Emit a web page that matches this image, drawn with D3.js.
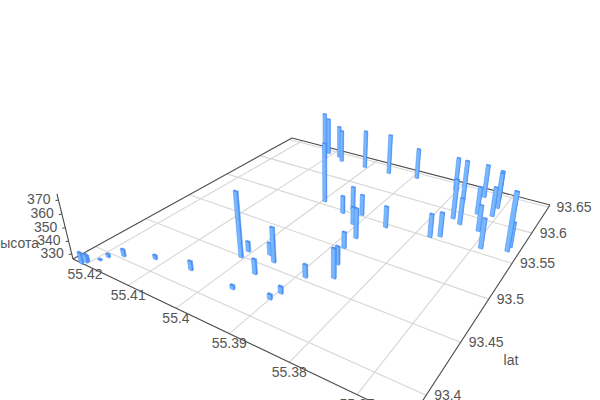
<!DOCTYPE html><html><head><meta charset="utf-8"><style>html,body{margin:0;background:#fff}svg{display:block}text{font-family:"Liberation Sans",Arial,sans-serif;font-size:14px;fill:#555}</style>
<script src="https://d3js.org/d3.v7.min.js"></script></head><body><svg width="600" height="400"></svg>
<script>
const lonValues=[55.4103,55.4110,55.3995,55.4080,55.4064,55.4006,55.3950,55.3891,55.3804,55.3765,55.3776,55.3747,55.3746,55.3718,55.3710,55.3734,55.3708,55.3711,55.3688,55.3648,55.3648,55.3774,55.3760,55.4006,55.4007,55.3953,55.3971,55.3958,55.3962,55.3900,55.3895,55.3887,55.3849,55.3864,55.3880,55.3879,55.3933,55.3907,55.3943,55.3910,55.3853,55.4208,55.4205,55.4205,55.4191,55.4187,55.4168,55.4119,55.4049];
const latValues=[93.631,93.643,93.555,93.641,93.634,93.634,93.635,93.640,93.637,93.588,93.623,93.582,93.638,93.640,93.625,93.606,93.609,93.580,93.557,93.564,93.571,93.551,93.556,93.449,93.458,93.457,93.463,93.438,93.416,93.421,93.430,93.454,93.464,93.480,93.501,93.518,93.555,93.535,93.546,93.552,93.545,93.380,93.383,93.384,93.390,93.396,93.403,93.413,93.417];
const altValues=[367.5,358.8,374.7,354.8,354.5,359.4,360.7,352.4,354.3,358.2,359.5,347.5,353.8,351.1,355.6,348.8,350.3,347.2,349.6,371.7,345.8,344.6,345.4,375.3,334.0,352.7,335.5,337.5,329.1,329.8,331.3,336.0,348.5,340.0,338.8,350.0,345.6,340.2,340.5,342.9,343.3,334.6,332.3,330.8,326.9,328.5,331.6,329.2,333.0];
const lonTicks=[55.42,55.41,55.4,55.39,55.38,55.37];
const latTicks=[93.4,93.45,93.5,93.55,93.6,93.65];
const altTicks=[330,340,350,360,370];

const sScale=d3.scaleLinear().domain([55.423,55.363]).range([0,1]);
const tScale=d3.scaleLinear().domain([93.38,93.655]).range([0,1]);
const hScale=d3.scaleLinear().domain([326.1,374.3]).range([0,0.0588]);
// floor homography and vertical vanishing point of the camera
const hm={a:217.2,b:354.7,c:73,d:38.2,e:-56.9,f:259,g:-0.2923,h:0.4648},vp=[330,1300];
function homog(s,t,l){return [hm.a*s+hm.b*t+hm.c-l*vp[0],hm.d*s+hm.e*t+hm.f-l*vp[1],1+hm.g*s+hm.h*t-l];}
function proj(s,t,l=0){const p=homog(s,t,l);return [p[0]/p[2],p[1]/p[2]];}
const svg=d3.select('svg');
const line=(g,a,b,col,w=1)=>g.append('line').attr('x1',a[0]).attr('y1',a[1]).attr('x2',b[0]).attr('y2',b[1]).attr('stroke',col).attr('stroke-width',w);

const grid=svg.append('g');
lonTicks.forEach(v=>line(grid,proj(sScale(v),0),proj(sScale(v),1),'#d6d6d6',1.1));
latTicks.forEach(v=>line(grid,proj(0,tScale(v)),proj(1,tScale(v)),'#d6d6d6',1.1));
const ax=svg.append('g');
[[[0,0],[1,0]],[[1,0],[1,1]],[[1,1],[0,1]],[[0,1],[0,0]]].forEach(([a,b])=>line(ax,proj(...a),proj(...b),'#4a4a4a',1.1));
line(ax,proj(0,0),proj(0,0,0.0588),'#4a4a4a',1.1);
altTicks.forEach(v=>{const p=proj(0,0,hScale(v));line(ax,p,[p[0]-3,p[1]+0.5],'#4a4a4a');
  ax.append('text').attr('x',p[0]-8).attr('y',p[1]+4).attr('text-anchor','end').text(v);});
lonTicks.forEach(v=>{const p=proj(sScale(v),0);ax.append('text').attr('x',p[0]).attr('y',p[1]+14.5).attr('text-anchor','middle').text(v);});
latTicks.forEach(v=>{const p=proj(1,tScale(v));ax.append('text').attr('x',p[0]+8).attr('y',p[1]+5).text(v);});
ax.append('text').attr('x',39).attr('y',248).attr('text-anchor','end').text('высота');
ax.append('text').attr('x',511).attr('y',365).attr('text-anchor','middle').text('lat');

const hs=0.0058,ht=0.0028;
const bars=lonValues.map((lon,i)=>({s:sScale(lon),t:tScale(latValues[i]),l:hScale(altValues[i])}));
bars.sort((p,q)=>homog(q.s,q.t,0)[2]-homog(p.s,p.t,0)[2]);
const poly=pts=>pts.map(p=>p.map(v=>v.toFixed(2)).join(',')).join(' ');
const gs=svg.append('g').selectAll('g').data(bars).join('g').attr('stroke','#4a8cf0').attr('stroke-width',0.5).attr('stroke-linejoin','round');
gs.append('polygon').attr('fill','#4f92f2').attr('points',d=>poly([proj(d.s+hs,d.t-ht),proj(d.s+hs,d.t+ht),proj(d.s+hs,d.t+ht,d.l),proj(d.s+hs,d.t-ht,d.l)]));
gs.append('polygon').attr('fill','#78b8ff').attr('points',d=>poly([proj(d.s-hs,d.t-ht),proj(d.s+hs,d.t-ht),proj(d.s+hs,d.t-ht,d.l),proj(d.s-hs,d.t-ht,d.l)]));
gs.append('polygon').attr('fill','#4a8cf0').attr('points',d=>poly([proj(d.s-hs,d.t-ht,d.l),proj(d.s+hs,d.t-ht,d.l),proj(d.s+hs,d.t+ht,d.l),proj(d.s-hs,d.t+ht,d.l)]));
</script></body></html>
